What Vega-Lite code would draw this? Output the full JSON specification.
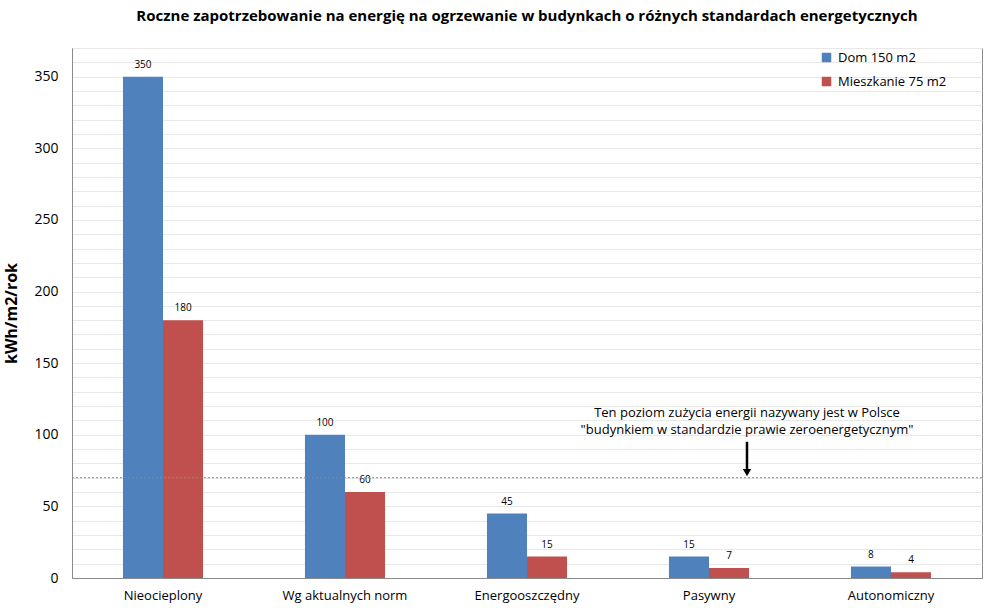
{
  "$schema": "https://vega.github.io/schema/vega-lite/v6.json",
  "autosize": {"type": "none"},
  "width": 910,
  "height": 530,
  "padding": {"left": 72, "top": 48, "right": 20, "bottom": 32},
  "background": "white",
  "config": {
    "font": "Open Sans",
    "view": {"stroke": "#8a8a8a", "strokeWidth": 1},
    "axis": {"labelFont": "Open Sans", "titleFont": "Open Sans"}
  },
  "title": {
    "text": "Roczne zapotrzebowanie  na energię na ogrzewanie w budynkach  o różnych standardach  energetycznych",
    "font": "Open Sans",
    "fontSize": 15,
    "fontWeight": "bold",
    "color": "#000000",
    "anchor": "middle",
    "offset": 24
  },
  "datasets": {
    "slupki": [
      {"kategoria": "Nieocieplony", "seria": "Dom 150 m2", "wartosc": 350},
      {"kategoria": "Nieocieplony", "seria": "Mieszkanie 75 m2", "wartosc": 180},
      {"kategoria": "Wg aktualnych norm", "seria": "Dom 150 m2", "wartosc": 100},
      {"kategoria": "Wg aktualnych norm", "seria": "Mieszkanie 75 m2", "wartosc": 60},
      {"kategoria": "Energooszczędny", "seria": "Dom 150 m2", "wartosc": 45},
      {"kategoria": "Energooszczędny", "seria": "Mieszkanie 75 m2", "wartosc": 15},
      {"kategoria": "Pasywny", "seria": "Dom 150 m2", "wartosc": 15},
      {"kategoria": "Pasywny", "seria": "Mieszkanie 75 m2", "wartosc": 7},
      {"kategoria": "Autonomiczny", "seria": "Dom 150 m2", "wartosc": 8},
      {"kategoria": "Autonomiczny", "seria": "Mieszkanie 75 m2", "wartosc": 4}
    ],
    "prog": [{"wartosc": 70, "kategoria": "Pasywny"}]
  },
  "encoding": {
    "y": {
      "field": "wartosc",
      "type": "quantitative",
      "scale": {"domain": [0, 370], "nice": false},
      "axis": {
        "title": "kWh/m2/rok",
        "titleFontSize": 16,
        "titleFontWeight": "bold",
        "titleColor": "#000000",
        "titlePadding": 14,
        "values": [0,10,20,30,40,50,60,70,80,90,100,110,120,130,140,150,160,170,180,190,200,210,220,230,240,250,260,270,280,290,300,310,320,330,340,350,360,370],
        "labelExpr": "datum.value % 50 === 0 ? datum.label : ''",
        "labelFontSize": 14,
        "labelColor": "#000000",
        "labelPadding": 14,
        "ticks": false,
        "gridColor": "#e8e8e8",
        "domainColor": "#8a8a8a"
      }
    }
  },
  "layer": [
    {
      "data": {"name": "slupki"},
      "mark": {"type": "bar"},
      "encoding": {
        "x": {
          "field": "kategoria",
          "type": "nominal",
          "sort": null,
          "scale": {"paddingInner": 0.56, "paddingOuter": 0.28},
          "axis": {
            "title": null,
            "labelAngle": 0,
            "labelFontSize": 13,
            "labelColor": "#000000",
            "labelPadding": 11,
            "ticks": false,
            "domainColor": "#8a8a8a"
          }
        },
        "xOffset": {"field": "seria", "type": "nominal"},
        "color": {
          "field": "seria",
          "type": "nominal",
          "scale": {"domain": ["Dom 150 m2", "Mieszkanie 75 m2"], "range": ["#4f81bd", "#c0504d"]},
          "legend": {
            "title": null,
            "orient": "none",
            "legendX": 748,
            "legendY": 3,
            "symbolType": "square",
            "symbolSize": 90,
            "symbolStrokeWidth": 0,
            "labelFontSize": 13,
            "labelColor": "#000000",
            "rowPadding": 10,
            "labelOffset": 5
          }
        }
      }
    },
    {
      "data": {"name": "slupki"},
      "mark": {"type": "text", "dy": -12, "fontSize": 10, "color": "#000000"},
      "encoding": {
        "x": {"field": "kategoria", "type": "nominal", "sort": null},
        "xOffset": {"field": "seria", "type": "nominal"},
        "text": {"field": "wartosc", "type": "quantitative"}
      }
    },
    {
      "data": {"name": "prog"},
      "mark": {"type": "rule", "color": "#8a8a8a", "strokeDash": [2, 2], "strokeWidth": 1},
      "encoding": {}
    },
    {
      "data": {"name": "prog"},
      "mark": {
        "type": "text",
        "text": ["Ten poziom zużycia energii nazywany jest w Polsce", "\"budynkiem w standardzie  prawie zeroenergetycznym\""],
        "fontSize": 13,
        "color": "#000000",
        "lineHeight": 17,
        "baseline": "middle",
        "dx": 38,
        "dy": -65
      },
      "encoding": {"x": {"field": "kategoria", "type": "nominal", "sort": null}}
    },
    {
      "data": {"name": "prog"},
      "mark": {"type": "rule", "color": "#000000", "strokeWidth": 2.5, "xOffset": 38, "y2Offset": -7, "yOffset": -36},
      "encoding": {"x": {"field": "kategoria", "type": "nominal", "sort": null}, "y2": {"field": "wartosc"}}
    },
    {
      "data": {"name": "prog"},
      "mark": {"type": "point", "shape": "triangle-down", "filled": true, "color": "#000000", "size": 70, "opacity": 1, "xOffset": 38, "yOffset": -5},
      "encoding": {"x": {"field": "kategoria", "type": "nominal", "sort": null}}
    }
  ]
}
